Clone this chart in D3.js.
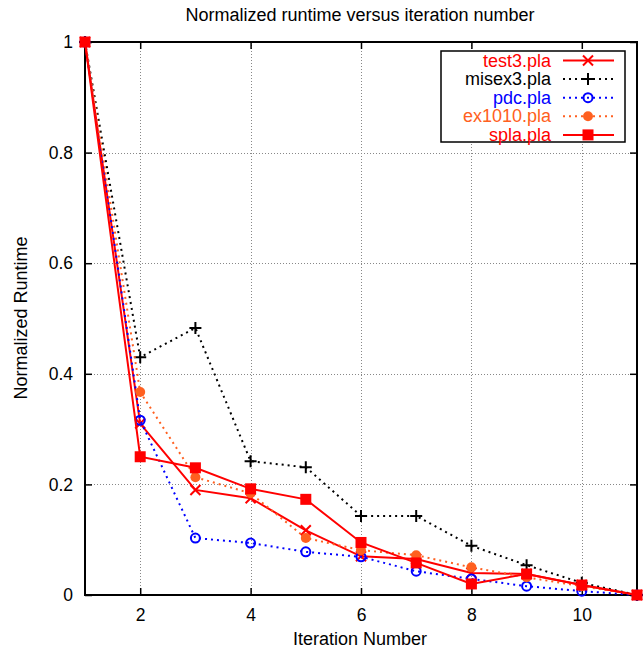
<!DOCTYPE html>
<html>
<head>
<meta charset="utf-8">
<script src="https://cdn.jsdelivr.net/npm/d3@7"></script>
<style>
  body { margin: 0; background: #fff; }
  svg { display: block; }
  text { font-family: "Liberation Sans", Arial, sans-serif; }
</style>
</head>
<body>
<div id="chart"></div>
<script>
const iterations = [1, 2, 3, 4, 5, 6, 7, 8, 9, 10, 11];
const test3  = [1, 0.31, 0.19, 0.175, 0.117, 0.07, 0.065, 0.04, 0.038, 0.018, 0];
const misex3 = [1, 0.43, 0.483, 0.242, 0.231, 0.143, 0.143, 0.089, 0.054, 0.022, 0];
const pdc    = [1, 0.316, 0.103, 0.094, 0.078, 0.069, 0.043, 0.029, 0.016, 0.007, 0];
const ex1010 = [1, 0.367, 0.213, 0.184, 0.103, 0.081, 0.072, 0.05, 0.032, 0.016, 0];
const spla   = [1, 0.25, 0.23, 0.192, 0.173, 0.095, 0.058, 0.02, 0.038, 0.018, 0];
const xTicks = [2, 4, 6, 8, 10];
const yTicks = [0, 0.2, 0.4, 0.6, 0.8, 1];

const series = [
    { name: "test3.pla",  values: test3,  color: "#ff0000", dash: null,  marker: "cross" },
    { name: "misex3.pla", values: misex3, color: "#000000", dash: "2,4", marker: "plus" },
    { name: "pdc.pla",    values: pdc,    color: "#0000ff", dash: "2,4", marker: "circle" },
    { name: "ex1010.pla", values: ex1010, color: "#ff6020", dash: "2,4", marker: "dot" },
    { name: "spla.pla",   values: spla,   color: "#ff0000", dash: null,  marker: "square" }
];

const width = 644, height = 651;
const margin = { top: 42, right: 7, bottom: 56, left: 85 };

const svg = d3.select("#chart").append("svg")
    .attr("width", width)
    .attr("height", height);

const x = d3.scaleLinear().domain([1, 11]).range([margin.left, width - margin.right]);
const y = d3.scaleLinear().domain([0, 1]).range([height - margin.bottom, margin.top]);

// grid
const grid = svg.append("g")
    .attr("stroke", "#888")
    .attr("stroke-width", 1)
    .attr("stroke-dasharray", "1,2");
grid.selectAll(".gx").data(xTicks).enter().append("line")
    .attr("x1", d => Math.round(x(d)) + 0.5).attr("x2", d => Math.round(x(d)) + 0.5)
    .attr("y1", y(0)).attr("y2", y(1));
grid.selectAll(".gy").data(yTicks.filter(d => d > 0 && d < 1)).enter().append("line")
    .attr("x1", x(1)).attr("x2", x(11))
    .attr("y1", d => Math.round(y(d)) + 0.5).attr("y2", d => Math.round(y(d)) + 0.5);

// axes, ticks inward and mirrored
const tickLen = 7;
svg.append("g").attr("transform", `translate(0,${y(0)})`)
    .call(d3.axisBottom(x).tickValues(xTicks).tickSize(-tickLen).tickPadding(14))
    .call(g => g.select(".domain").remove());
svg.append("g").attr("transform", `translate(0,${y(1)})`)
    .call(d3.axisTop(x).tickValues(xTicks).tickSize(-tickLen).tickFormat(""))
    .call(g => g.select(".domain").remove());
svg.append("g").attr("transform", `translate(${x(1)},0)`)
    .call(d3.axisLeft(y).tickValues(yTicks).tickSize(-tickLen).tickPadding(12).tickFormat(d3.format("~g")))
    .call(g => g.select(".domain").remove());
svg.append("g").attr("transform", `translate(${x(11)},0)`)
    .call(d3.axisRight(y).tickValues(yTicks).tickSize(-tickLen).tickFormat(""))
    .call(g => g.select(".domain").remove());

svg.selectAll(".tick line").attr("stroke", "#000").attr("stroke-width", 1.5);
svg.selectAll("g[font-family]").attr("font-family", null).attr("font-size", null);
svg.selectAll(".tick text").style("font-size", "17.5px").attr("fill", "#000");

svg.append("rect")
    .attr("x", x(1)).attr("y", y(1))
    .attr("width", x(11) - x(1)).attr("height", y(0) - y(1))
    .attr("fill", "none").attr("stroke", "#000").attr("stroke-width", 2);

// labels
svg.append("text").attr("x", 360).attr("y", 21).attr("text-anchor", "middle")
    .style("font-size", "18px").text("Normalized runtime versus iteration number");
svg.append("text").attr("x", 360).attr("y", 645).attr("text-anchor", "middle")
    .style("font-size", "18px").text("Iteration Number");
svg.append("text").attr("transform", "translate(27,318) rotate(-90)").attr("text-anchor", "middle")
    .style("font-size", "18px").text("Normalized Runtime");

function drawMarker(g, type, color) {
    switch (type) {
        case "cross":
            g.append("path").attr("d", "M-5,-5L5,5M-5,5L5,-5").attr("stroke", color).attr("stroke-width", 2).attr("fill", "none");
            break;
        case "plus":
            g.append("path").attr("d", "M-6,0L6,0M0,-6L0,6").attr("stroke", color).attr("stroke-width", 2).attr("fill", "none");
            break;
        case "circle":
            g.append("circle").attr("r", 4.5).attr("fill", "none").attr("stroke", color).attr("stroke-width", 2);
            break;
        case "dot":
            g.append("circle").attr("r", 5).attr("fill", color);
            break;
        case "square":
            g.append("rect").attr("x", -5.5).attr("y", -5.5).attr("width", 11).attr("height", 11).attr("fill", color);
            break;
    }
}

const line = d3.line().x((d, i) => x(iterations[i])).y(d => y(d));

const plot = svg.append("g");
series.forEach(s => {
    plot.append("path")
        .attr("d", line(s.values))
        .attr("fill", "none")
        .attr("stroke", s.color)
        .attr("stroke-width", 2)
        .attr("stroke-dasharray", s.dash);
    s.values.forEach((v, i) => {
        const g = plot.append("g").attr("transform", `translate(${x(iterations[i])},${y(v)})`);
        drawMarker(g, s.marker, s.color);
    });
});

// legend
const legend = svg.append("g");
legend.append("rect").attr("x", 441).attr("y", 51).attr("width", 184).attr("height", 91)
    .attr("fill", "#fff").attr("stroke", "#000").attr("stroke-width", 1.5);
series.forEach((s, i) => {
    const ly = 60.5 + i * 18.6;
    legend.append("text").attr("x", 551).attr("y", ly + 6).attr("text-anchor", "end")
        .style("font-size", "18px").attr("fill", s.color).text(s.name);
    legend.append("line").attr("x1", 563).attr("x2", 614).attr("y1", ly).attr("y2", ly)
        .attr("stroke", s.color).attr("stroke-width", 2).attr("stroke-dasharray", s.dash);
    drawMarker(legend.append("g").attr("transform", `translate(588,${ly})`), s.marker, s.color);
});
</script>
</body>
</html>
